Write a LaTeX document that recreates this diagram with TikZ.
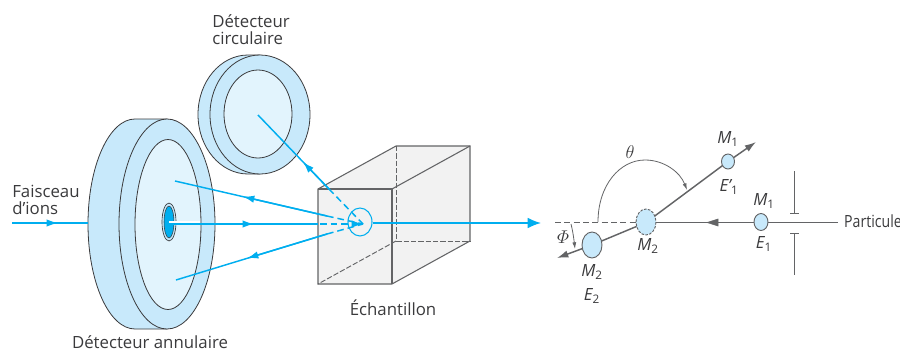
\documentclass[tikz,border=0pt]{standalone}
\usepackage{fontspec}
\setmainfont{Open Sans}
\usetikzlibrary{arrows.meta,shapes.geometric}
\definecolor{ionblue}{HTML}{00AEEF}
\definecolor{palea}{HTML}{C8E9FB}
\definecolor{paleb}{HTML}{E2F4FD}
\definecolor{boxfill}{HTML}{F2F2F2}
\definecolor{ink}{HTML}{3A3A3C}
\definecolor{rod}{HTML}{636466}
\tikzset{
  body/.style={draw=ink,line width=0.6pt,fill=palea},
  face/.style={draw=ink,line width=0.6pt,fill=paleb},
  ray/.style={draw=ionblue,line width=1.1pt},
  raydash/.style={ray,dash pattern=on 5pt off 3pt},
  tip/.style={-{Latex[length=8.5pt,width=5.5pt]}},
  boxedge/.style={draw=rod,line width=0.8pt},
  boxdash/.style={draw=rod,line width=0.7pt,dash pattern=on 4pt off 1.5pt},
  lab/.style={text=ink,font=\fontsize{12.6}{12.75}\selectfont,inner sep=0pt},
  sym/.style={text=ink,font=\fontsize{12.6}{13}\selectfont\itshape,inner sep=0pt},
  track/.style={draw=rod,line width=1.1pt},
  ball/.style={ellipse,minimum width=0pt,inner sep=0pt},
  ballface/.style={draw=rod,line width=0.7pt,fill=palea},
  gtip/.style={-{Latex[length=8.5pt,width=5.5pt]}},
}
\newcommand{\sbs}[1]{\textsubscript{\upshape #1}}
\begin{document}
\begin{tikzpicture}[x=0.75pt,y=-0.75pt]
\useasboundingbox (0,0) rectangle (900,351);
% annular detector
\path[body] (135,119) arc[start angle=270,end angle=90,x radius=47,y radius=105] -- (167,329) -- (167,119) -- cycle;
\path[body] (167,224) ellipse[x radius=48,y radius=105];
\path[face] (168,224.5) ellipse[x radius=33,y radius=85];
\path[draw=ink,line width=0.5pt,fill=palea] (169,222) ellipse[x radius=7,y radius=19];
\path[draw=ink,line width=0.4pt,fill=ionblue] (169,222) ellipse[x radius=5,y radius=16];
% circular detector
\path[body] (248,55) arc[start angle=270,end angle=90,x radius=50,y radius=59.5] -- (260,174) -- (260,55) -- cycle;
\path[body] (260,114.5) ellipse[x radius=50,y radius=59.5];
\path[face] (258,114) ellipse[x radius=34,y radius=44];
% sample box
\coordinate (fa) at (318,189); \coordinate (fb) at (392,189);
\coordinate (fc) at (392,284); \coordinate (fd) at (318,284);
\coordinate (ba) at (396,146); \coordinate (bb) at (470,146);
\coordinate (bc) at (470,241); \coordinate (bd) at (396,241);
\path[fill=boxfill] (fa) -- (ba) -- (bb) -- (bc) -- (fc) -- (fd) -- cycle;
\path[boxedge] (fb) -- (bb);
\path[boxdash] (ba) -- (bd) -- (bc);
\path[boxdash] (bd) -- (fd);
\path[boxedge] (fa) -- (ba) -- (bb) -- (bc) -- (fc) -- (fd) -- cycle;
\path[boxedge] (fa) -- (fb) -- (fc);
% ion paths
\coordinate (impact) at (363,224);
\coordinate (beamstart) at (12,223);
\coordinate (beamend) at (88,223);
\coordinate (holec) at (169,224);
\coordinate (upA) at (175,181);
\coordinate (upB) at (176,280);
\coordinate (upC) at (258,115);
\coordinate (exitA) at (373,223);
\coordinate (exitB) at (541,223);
\node[draw=ionblue,line width=0.8pt,ellipse,minimum width=18pt,minimum height=21pt,inner sep=0pt] (spot) at (360,222) {};
\path[ray] (beamstart) -- (beamend);
\path[ray,tip] (beamstart) -- (58,223);
\draw[white,line width=1.6pt] (holec) ++(0,-1.5) -- (200,222.5);
\path[ray] (holec) -- (318,224);
\path[ray,tip] (holec) -- (254,224);
\path[raydash,tip] (320,224) -- (impact);
\path[ray] (327,216) -- (upA);
\path[ray,tip] (327,216) -- (243,196.6);
\path[raydash] (327,216) -- (impact);
\path[ray] (327,234) -- (upB);
\path[ray,tip] (327,234) -- (247,258.3);
\path[raydash] (327,234) -- (impact);
\path[ray] (329,189) -- (upC);
\path[ray,tip] (329,189) -- (303,162);
\path[raydash] (329,189) -- (impact);
\path[ray,-{Latex[length=10pt,width=8pt]}] (exitA) -- (exitB);
% labels left
\node[lab,anchor=west,align=left] (faisceau) at (12,199.5) {Faisceau\\d'ions};
\node[lab,anchor=west,align=left] (circ) at (212,29.5) {Détecteur\\circulaire};
\node[lab] (ann) at (150,342) {Détecteur annulaire};
\node[lab] (ech) at (393,308) {Échantillon};
% collision diagram
\node[ball,minimum width=15pt,minimum height=19.5pt] (m2a) at (646,222.5) {};
\node[ball,minimum width=10pt,minimum height=12.5pt] (m1a) at (761,222.5) {};
\node[ball,minimum width=10pt,minimum height=11pt] (m1b) at (728,161.5) {};
\node[ball,minimum width=15pt,minimum height=19.5pt] (m2b) at (592,245) {};
\coordinate (left) at (555,222.5);
\coordinate (right) at (838,222.5);
\coordinate (tipup) at (756,142);
\coordinate (tipdown) at (557,258);
\path[track,dash pattern=on 4.5pt off 2.5pt] (left) -- (m2a.west);
\path[track] (right) -- (m1a.east);
\path[track] (m1a.west) -- (m2a.east);
\path[draw=rod,fill=rod] (718,219) -- (718,226) -- (707,222.5) -- cycle;
\path[track] (m2a.center) -- (m1b.center);
\path[track,gtip] (m1b.center) -- (tipup);
\path[track] (m2a.center) -- (m2b.center);
\path[track,gtip] (m2b.center) -- (tipdown);
\path[draw=none,fill=palea] (646,222) ellipse[x radius=10,y radius=13];
\path[draw=rod,line width=0.7pt,dash pattern=on 2pt off 1pt] (646,222) ellipse[x radius=10,y radius=13];
\path[ballface] (592,245) ellipse[x radius=10,y radius=13];
\path[ballface] (761,222) ellipse[x radius=7,y radius=8.5];
\path[ballface] (728,161.5) ellipse[x radius=6.5,y radius=7.5];
% slits
\coordinate (sa) at (794.5,171); \coordinate (sb) at (794.5,213);
\coordinate (sc) at (794.5,233); \coordinate (sd) at (794.5,275);
\path[draw=rod,line width=0.7pt] (sa) -- (sb) (790,213) -- (799,213);
\path[draw=rod,line width=0.7pt] (sc) -- (sd) (790,233) -- (799,233);
% angles
\path[draw=rod,line width=0.6pt,-{Latex[length=5pt,width=3pt]}] (598,222) .. controls (598,185) and (620,160) .. (645,160) .. controls (664,160) and (680,172) .. (687,190);
\path[draw=rod,line width=0.6pt,-{Latex[length=5pt,width=3pt]}] (571,224) .. controls (573,232) and (574,240) .. (575,249);
% symbols
\node[sym,scale=1.15] (theta) at (630,152) {$\theta$};
\node[sym,scale=1.15] (phi) at (563,237) {$\mathnormal{\Phi}$};
\node[sym] (lm1a) at (728,139) {M\sbs{1}};
\node[sym] (le1b) at (729,187) {E'\sbs{1}};
\node[sym] (lm1b) at (764,201) {M\sbs{1}};
\node[sym] (le1a) at (764,244) {E\sbs{1}};
\node[sym] (lm2a) at (648,246) {M\sbs{2}};
\node[sym] (lm2b) at (592,272) {M\sbs{2}};
\node[sym] (le2) at (592,296) {E\sbs{2}};
\node[lab,anchor=west,xscale=0.84] (part) at (844,221) {Particule};
\end{tikzpicture}
\end{document}
